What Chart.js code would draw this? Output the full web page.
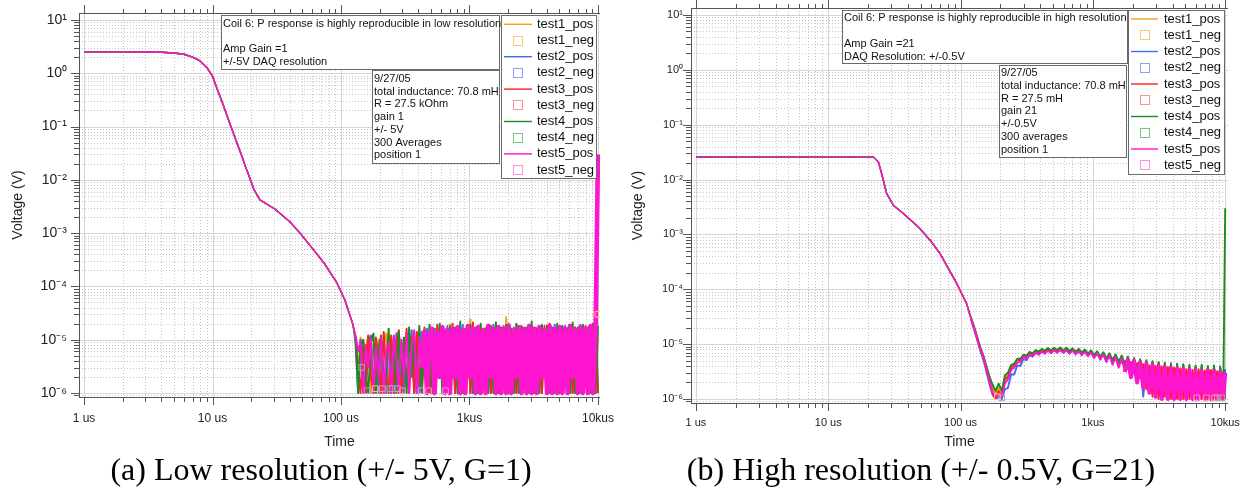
<!DOCTYPE html>
<html>
<head>
<meta charset="utf-8">
<script src="https://cdn.jsdelivr.net/npm/chart.js@4.4.1/dist/chart.umd.min.js"></script>
<style>
  html, body { margin: 0; padding: 0; background: #fff; }
  #page { position: relative; width: 1244px; height: 488px; overflow: hidden; }
  canvas { position: absolute; top: 0; }
  #lowChart { left: 0; }
  #highChart { left: 620px; }
  .caption { position: absolute; top: 451px; font-family: "Liberation Serif", "Times New Roman", serif;
             font-size: 32px; line-height: 36px; white-space: nowrap; transform: translateX(-50%); color: #000; }
</style>
</head>
<body>
<div id="page">
  <canvas id="lowChart" width="620" height="455"></canvas>
  <canvas id="highChart" width="624" height="455"></canvas>
  <div class="caption" style="left:321px">(a) Low resolution (+/- 5V, G=1)</div>
  <div class="caption" style="left:921px">(b) High resolution (+/- 0.5V, G=21)</div>
</div>
<script>
// time in us, decay in V, noisy tails in uV
const xTickValues = [1, 10, 100, 1000, 10000];
const xTickLabels = ['1 us', '10 us', '100 us', '1kus', '10kus'];
const yTickValues = [1e-6, 1e-5, 1e-4, 1e-3, 1e-2, 1e-1, 1, 10];
const yTickLabels = ['10⁻⁶', '10⁻⁵', '10⁻⁴', '10⁻³', '10⁻²', '10⁻¹', '10⁰', '10¹'];
const seriesNames = ['test1', 'test2', 'test3', 'test4', 'test5'];
const posColors = ['#f0a30a', '#3f6df0', '#ff2020', '#1e8c1e', '#ff14cf'];
const negColors = ['#f7c97a', '#8ca2f2', '#f59a9a', '#7cc47c', '#ff8fe4'];

// ---- (a) low resolution ----
const lowDecayTimes = [1, 2, 3, 4, 5, 6, 7, 8, 9, 10, 11, 12, 13, 14, 15, 16, 17, 18, 19, 20, 21, 23.4, 30.6, 40.1, 48, 60.6, 75, 93, 107, 124];
const lowDecayVolts = [2.52, 2.52, 2.5, 2.47, 2.4, 2.27, 2.0, 1.7, 1.3, 0.88, 0.47, 0.27, 0.157, 0.096, 0.061, 0.04, 0.027, 0.018, 0.0129, 0.0091, 0.0066, 0.0042, 0.00283, 0.00161, 0.001, 0.0005, 0.00026, 0.000116, 0.000056, 0.000019];
const lowTailTimes = [130,136,142,149,156,163,171,179,187,196, 205,215,225,235,246,258,270,282,295,309,
  324,339,355,371,389,407,426,446,467,489, 512,536,561,587,615,643,673,705,738,773,
  809,847,886,928,971,1017,1064,1114,1166,1221, 1278,1338,1400,1466,1535,1607,1682,1761,1843,1930,
  2020,2115,2214,2318,2426,2540,2659,2784,2914,3051, 3194,3343,3500,3664,3836,4016,4204,4401,4607,4823,
  5049,5286,5534,5793,6065,6349,6647,6958,7284,7626, 7983,8357,8749,9159,9588,10000];
const lowTail1 = [9,2,11,1,7,12,1,8,3,10, 1,9,13,1,6,11,1,14,2,9, 1,15,3,12,1,16,2,13,1,17, 1,14,2,18,1,16,1,19,2,15,
  1,17,1,16,2,24,1,15,1,18, 1,17,2,16,1,19,1,15,1,26, 2,16,1,19,1,17,1,15,2,18, 1,17,1,16,2,19,1,15,1,18,
  1,16,2,17,1,19,1,16,1,18, 2,17,1,18,1,16];
const lowTail2 = [8,1,10,4,1,9,12,1,6,1, 10,2,1,11,7,1,13,1,9,1, 12,2,15,1,10,1,14,2,16,1, 13,1,17,2,15,1,18,1,14,1,
  16,2,19,1,15,1,17,1,18,2, 15,1,17,1,19,1,16,2,18,1, 15,1,17,1,18,2,16,1,19,1, 15,2,18,1,16,1,17,1,19,1,
  16,1,18,2,15,1,17,1,19,1, 16,1,17,2,18,1];
const lowTail3 = [10,3,1,9,1,12,2,1,11,4, 1,14,2,1,12,1,9,15,1,3, 16,1,11,1,14,2,1,17,3,1, 15,1,19,2,16,1,14,1,20,1,
  16,2,15,1,18,1,21,1,17,2, 16,1,19,1,15,2,18,1,17,1, 20,1,16,1,18,2,15,1,19,1, 17,2,16,1,18,1,20,1,15,1,
  18,2,16,1,19,1,17,1,16,2, 18,1,19,1,17,1];
const lowTail4 = [11,1,8,10,2,1,9,13,1,7, 12,1,3,16,1,10,1,14,2,11, 1,17,2,13,1,18,1,15,2,19, 1,16,2,20,1,15,1,18,2,17,
  1,22,1,16,2,19,1,17,1,20, 2,16,1,18,1,21,1,17,2,19, 1,16,1,20,1,18,2,17,1,22, 1,16,1,19,2,18,1,17,1,20,
  1,18,2,16,1,21,1,17,1,19, 2,17,1,20,1,18];
const lowTail5 = [12,6,9,1,8,3,10,1,7,2, 11,1,6,9,1,12,4,1,10,2, 13,1,8,15,1,11,3,14,1,12, 16,1,14,2,17,1,15,1,16,2,
  17,1,15,1,18,2,16,1,17,1, 15,1,18,2,16,1,17,1,16,1, 18,1,15,2,17,1,16,1,18,1, 16,1,17,2,15,1,18,1,16,1,
  17,1,16,1,18,2,15,1,17,1, 16,1,18,1,17,30000];
const lowNegTimes = [[185, 10000], [160, 250], [210, 300, 480], [145, 240], [275, 420, 650]];
const lowNegVals = [[1.2, 30], [1.1, 1.2], [1.2, 1.1, 1.1], [3, 1.2], [1.2, 1.1, 1.1]];
const lowNote1 = ['Coil 6: P response is highly reproducible in low resolution', '', 'Amp Gain =1', '+/-5V DAQ resolution'];
const lowNote2 = ['9/27/05', 'total inductance: 70.8 mH', 'R = 27.5 kOhm', 'gain 1', '+/- 5V', '300 Averages', 'position 1'];

// ---- (b) high resolution ----
const highDecayTimes = [1, 21.9, 23.9, 25.3, 27.6, 31, 36.9, 47.9, 58.7, 69.8, 93.4, 111];
const highDecayVolts = [0.0259, 0.0259, 0.021, 0.0129, 0.0056, 0.0034, 0.0024, 0.00137, 0.00079, 0.00045, 0.000128, 0.000055];
const highTailTimes = [120,127,134,141,149,157,166,175,184,194, 205,216,228,241,254,268,283,298,315,332,
  350,369,390,411,434,457,483,509,537,567, 598,631,665,702,740,781,824,869,917,967,
  1020,1077,1136,1198,1264,1334,1407,1484,1566,1652, 1743,1839,1940,2047,2159,2278,2403,2536,2675,2822,
  2977,3141,3314,3496,3688,3891,4105,4331,4569,4820, 5085,5365,5660,5971,6300,6646,7012,7397,7804,8234,
  8687,9164,9668,10000];
const highTail1 = [30,20,13,8.8,6.2,3.8,2.4,1.6,1.2,1.6, 1.3,2.4,2.8,3.9,4.2,5.1,5.2,6.2,5.9,6.9,
  6.4,7.4,6.9,7.7,7.2,8.0,7.4,8.2,7.4,8.3, 7.3,8.2,7.2,8.1,7.0,7.9,6.8,7.7,6.5,7.4,
  6.1,7.2,5.7,6.9,5.3,6.6,4.9,6.3,4.5,6.0, 4.1,5.7,3.6,5.4,3.1,5.1,2.6,4.9,2.2,4.8,
  1.9,4.6,1.6,4.5,1.3,4.3,1.2,4.2,1.1,4.1, 1,3.9,1,3.8,1,3.9,1,3.7,1,3.8, 1,3.6,1,3.5];
const highTail2 = [28,18,11.5,7.6,5.1,3.1,1.8,1.2,1,1.1, 1,1.5,1.6,2.8,2.8,4.1,4.0,5.3,5.1,6.3,
  5.9,6.9,6.5,7.4,6.8,7.7,6.9,7.8,7.0,7.9, 6.9,7.9,6.7,7.8,6.5,7.6,6.3,7.4,6.0,7.2,
  5.7,7.0,5.3,6.7,4.9,6.4,4.5,6.1,4.0,5.8, 3.5,5.5,2.9,5.2,2.3,5.0,1.1,4.8,1.7,4.6,
  1.4,4.4,1.2,4.3,1.1,4.2,1,4.1,1,4.2, 1,3.9,1,3.8,1,4.0,1,3.7,1,3.6, 1,3.7,1,3.5];
const highTail3 = [29,19,12,8,5.6,3.4,2.0,1.2,1,1.4, 1.1,2.3,2.5,3.8,4.0,5.2,5.0,6.2,5.9,6.9,
  6.5,7.4,7.0,7.8,7.3,8.1,7.5,8.2,7.6,8.2, 7.5,8.0,7.4,7.8,7.2,7.6,7.0,7.3,6.7,7.0,
  6.4,6.6,6.1,6.2,5.8,5.7,5.5,5.2,5.2,4.6, 4.9,3.9,4.7,3.2,4.5,2.4,4.3,1.5,4.1,1.1,
  4.0,1,3.9,1.1,3.8,1,3.7,1,3.6,1, 3.5,1,3.4,1,3.5,1,3.3,1,3.4,1, 3.2,1,3.1,1];
const highTail4 = [30,20,13,8.6,6.0,3.9,2.5,1.8,1.4,1.9, 1.4,2.7,3.0,4.2,4.4,5.4,5.4,6.4,6.2,7.2,
  6.8,7.8,7.3,8.2,7.6,8.5,7.7,8.6,7.8,8.7, 7.7,8.6,7.5,8.4,7.3,8.2,7.0,8.0,6.7,7.7,
  6.3,7.4,5.9,7.1,5.5,6.8,5.1,6.5,4.7,6.2, 4.3,5.9,3.8,5.6,3.3,5.3,2.8,5.1,2.4,4.9,
  2.0,4.7,1.7,4.6,1.4,4.5,1.2,4.4,1.1,4.3, 1,4.2,1,4.1,1,4.2,1,4.0,1,4.1, 1,3.9,1,3000];
const highTail5 = [29,19,12.5,8,5.8,3.3,2.1,1.3,1.1,1.2, 1.1,1.9,2.3,3.4,3.7,4.6,4.7,5.8,5.5,6.5,
  6.0,7.0,6.4,7.4,6.7,7.6,6.9,7.7,7.0,7.8, 7.0,7.7,6.8,7.6,6.6,7.4,6.4,7.2,6.1,7.0,
  5.6,6.8,5.2,6.5,4.7,6.2,4.2,5.8,3.7,5.5, 3.1,5.2,2.5,4.9,2.0,4.6,1.6,4.4,1.3,4.2,
  1.1,4.0,1,3.8,1,3.7,1,3.6,1,3.5, 1,3.4,1,3.3,1,3.2,1,3.3,1,3.2, 1,3.1,1,3.0];
const highNegTimes = [[190], [205], [8300], [9400], [6100, 7200, 8700]];
const highNegVals = [[1.1], [1.05], [1.05], [1.05], [1.05, 1.05, 1.05]];
const highNote1 = ['Coil 6: P response is highly reproducible in high resolution', '', 'Amp Gain =21', 'DAQ Resolution: +/-0.5V'];
const highNote2 = ['9/27/05', 'total inductance: 70.8 mH', 'R = 27.5 mH', 'gain 21', '+/-0.5V', '300 averages', 'position 1'];

const FONT = '"Liberation Sans", Arial, sans-serif';

function curve(decT, decV, tailT, tailUV) {
  const pts = decT.map((t, i) => ({x: t, y: decV[i]}));
  tailT.forEach((t, i) => pts.push({x: t, y: tailUV[i] * 1e-6}));
  return pts;
}

function buildDatasets(decT, decV, tailT, tails, negT, negV, st) {
  const sets = [];
  seriesNames.forEach((name, i) => {
    const denseFrom = i === 4 ? st.denseFrom : Infinity;
    sets.push({
      label: name + '_pos', data: curve(decT, decV, tailT, tails[i]),
      borderColor: posColors[i], borderWidth: st.width, pointRadius: 0, order: 10 - i,
      borderJoinStyle: 'round',
      // noisy tail drawn heavier so the overlapping traces read as a band
      segment: {borderWidth: c => {
        const t = c.p0.parsed.x;
        if (t >= denseFrom) return st.denseWidth;
        return t >= tailT[0] ? st.tailWidth : st.width;
      }}
    });
    sets.push({
      label: name + '_neg', showLine: false,
      data: negT[i].map((t, j) => ({x: t, y: negV[i][j] * 1e-6})),
      borderColor: negColors[i], backgroundColor: 'rgba(0,0,0,0)', pointStyle: 'rect',
      pointRadius: 4, borderWidth: 1, order: 0
    });
  });
  return sets;
}

// grid, axis lines and tick marks, drawn Igor-style
const igorAxes = {
  id: 'igorAxes',
  beforeDatasetsDraw(chart) {
    const {ctx, chartArea: a, scales: {x, y}} = chart;
    ctx.save();
    ctx.lineWidth = 1;
    for (let e = -1; e <= 4; e++) {
      for (let k = 1; k <= 9; k++) {
        const v = k * Math.pow(10, e);
        if (v < x.min || v > x.max) continue;
        const px = Math.round(x.getPixelForValue(v)) + 0.5;
        ctx.strokeStyle = k === 1 ? '#d6d6d6' : '#c6c6c6';
        ctx.setLineDash(k === 1 ? [] : [1, 2]);
        ctx.beginPath(); ctx.moveTo(px, a.top); ctx.lineTo(px, a.bottom); ctx.stroke();
        ctx.setLineDash([]);
        ctx.strokeStyle = '#555';
        const len = k === 1 ? 8 : 5;
        ctx.beginPath();
        ctx.moveTo(px, a.bottom); ctx.lineTo(px, a.bottom + len);
        ctx.moveTo(px, a.top); ctx.lineTo(px, a.top - (k === 1 ? 8 : 4));
        ctx.stroke();
      }
    }
    for (let e = -7; e <= 1; e++) {
      for (let k = 1; k <= 9; k++) {
        const v = k * Math.pow(10, e);
        if (v < y.min || v > y.max) continue;
        const py = Math.round(y.getPixelForValue(v)) + 0.5;
        ctx.strokeStyle = k === 1 ? '#d6d6d6' : '#c6c6c6';
        ctx.setLineDash(k === 1 ? [] : [1, 2]);
        ctx.beginPath(); ctx.moveTo(a.left, py); ctx.lineTo(a.right, py); ctx.stroke();
        ctx.setLineDash([]);
        ctx.strokeStyle = '#555';
        ctx.beginPath(); ctx.moveTo(a.left - (k === 1 ? 8 : 5), py); ctx.lineTo(a.left, py); ctx.stroke();
      }
    }
    ctx.strokeStyle = '#555';
    ctx.beginPath();
    ctx.moveTo(Math.round(a.left) + 0.5, a.top); ctx.lineTo(Math.round(a.left) + 0.5, a.bottom + 1);
    ctx.moveTo(a.left, Math.round(a.bottom) + 0.5); ctx.lineTo(a.right, Math.round(a.bottom) + 0.5);
    ctx.moveTo(a.left, Math.round(a.top) + 0.5); ctx.lineTo(a.right, Math.round(a.top) + 0.5);
    ctx.stroke();
    ctx.restore();
  }
};

// text boxes and the legend sit on top of the traces
const igorNotes = {
  id: 'igorNotes',
  afterDatasetsDraw(chart, args, opts) {
    const ctx = chart.ctx;
    ctx.save();
    ctx.textBaseline = 'middle';
    for (const n of opts.notes) {
      ctx.fillStyle = '#fff';
      ctx.fillRect(n.x, n.y, n.w, n.h);
      ctx.strokeStyle = '#6a6a6a'; ctx.lineWidth = 1;
      ctx.strokeRect(n.x + 0.5, n.y + 0.5, n.w, n.h);
      ctx.fillStyle = '#111';
      ctx.font = '11px ' + FONT;
      n.lines.forEach((s, i) => ctx.fillText(s, n.x + 2, n.y + n.first + i * n.lh));
    }
    const L = opts.legend;
    ctx.fillStyle = '#fff';
    ctx.fillRect(L.x, L.y, L.w, L.h);
    ctx.strokeStyle = '#6a6a6a';
    ctx.strokeRect(L.x + 0.5, L.y + 0.5, L.w, L.h);
    ctx.font = '13px ' + FONT;
    chart.data.datasets.forEach((ds, i) => {
      const cy = L.y + L.first + i * L.rowH;
      if (ds.showLine === false) {
        ctx.strokeStyle = ds.borderColor; ctx.lineWidth = 1;
        ctx.strokeRect(L.x + L.sq - 4.5, Math.round(cy) - 4.5, 9, 9);
      } else {
        ctx.strokeStyle = ds.borderColor; ctx.lineWidth = ds.borderWidth;
        ctx.beginPath(); ctx.moveTo(L.x + 3, cy); ctx.lineTo(L.x + L.lineEnd, cy); ctx.stroke();
      }
      ctx.fillStyle = '#111';
      ctx.fillText(ds.label, L.x + L.text, cy);
    });
    ctx.restore();
  }
};

function makeChart(id, p) {
  return new Chart(document.getElementById(id), {
    type: 'line',
    data: {datasets: p.datasets},
    options: {
      responsive: false, animation: false, devicePixelRatio: 1,
      layout: {padding: {left: 0, right: p.padRight, top: p.padTop, bottom: 0}},
      elements: {line: {tension: 0}},
      plugins: {legend: {display: false}, tooltip: {enabled: false},
                igorNotes: {notes: p.notes, legend: p.legend}},
      scales: {
        x: {
          type: 'logarithmic', min: p.xMin, max: p.xMax,
          afterFit: s => { s.height = p.xHeight; s.paddingLeft = 0; s.paddingRight = 0; },
          afterBuildTicks: s => { s.ticks = xTickValues.map(v => ({value: v})); },
          ticks: {callback: (v, i) => xTickLabels[i], autoSkip: false, maxRotation: 0, padding: p.xPad,
                  color: '#222', font: {family: FONT, size: p.xFont}},
          grid: {display: false, drawTicks: false}, border: {display: false},
          title: {display: true, text: 'Time', color: '#222', font: {family: FONT, size: 14}, padding: {top: 0, bottom: 4}}
        },
        y: {
          type: 'logarithmic', min: p.yMin, max: p.yMax,
          afterFit: s => { s.width = p.yWidth; s.paddingTop = 0; s.paddingBottom = 0; },
          afterBuildTicks: s => { s.ticks = yTickValues.map(v => ({value: v})); },
          ticks: {callback: (v, i) => yTickLabels[i], autoSkip: false, padding: p.yPad,
                  color: '#222', font: {family: FONT, size: p.yFont}},
          grid: {display: false, drawTicks: false}, border: {display: false},
          title: {display: true, text: 'Voltage (V)', color: '#222', font: {family: FONT, size: 14}, padding: {top: 10, bottom: 0}}
        }
      }
    },
    plugins: [igorAxes, igorNotes]
  });
}

makeChart('lowChart', {
  datasets: buildDatasets(lowDecayTimes, lowDecayVolts, lowTailTimes,
    [lowTail1, lowTail2, lowTail3, lowTail4, lowTail5], lowNegTimes, lowNegVals,
    {width: 1.4, tailWidth: 2, denseFrom: 420, denseWidth: 4.6}),
  xMin: 0.914, xMax: 10370, yMin: 0.84e-6, yMax: 13.5,
  padRight: 20, padTop: 13, xHeight: 58, yWidth: 79,
  xPad: 14, yPad: 12, xFont: 12, yFont: 14,
  notes: [
    {x: 221, y: 15, w: 278, h: 54, first: 9, lh: 12.7, lines: lowNote1},
    {x: 372, y: 70, w: 127, h: 93, first: 9, lh: 12.7, lines: lowNote2}
  ],
  legend: {x: 501, y: 15, w: 95, h: 163, first: 9.3, rowH: 16.2, lineEnd: 31, sq: 17, text: 36}
});

makeChart('highChart', {
  datasets: buildDatasets(highDecayTimes, highDecayVolts, highTailTimes,
    [highTail1, highTail2, highTail3, highTail4, highTail5], highNegTimes, highNegVals,
    {width: 1.4, tailWidth: 1.9, denseFrom: 1700, denseWidth: 4}),
  xMin: 0.917, xMax: 10500, yMin: 0.845e-6, yMax: 13.4,
  padRight: 16, padTop: 8, xHeight: 52, yWidth: 71,
  xPad: 13, yPad: 8, xFont: 11, yFont: 11,
  notes: [
    {x: 222, y: 10, w: 285, h: 53, first: 8, lh: 12.9, lines: highNote1},
    {x: 379, y: 65, w: 127, h: 92, first: 7.7, lh: 12.9, lines: highNote2}
  ],
  legend: {x: 508, y: 10, w: 96, h: 164, first: 9, rowH: 16.25, lineEnd: 30, sq: 17, text: 36}
});
</script>
</body>
</html>
